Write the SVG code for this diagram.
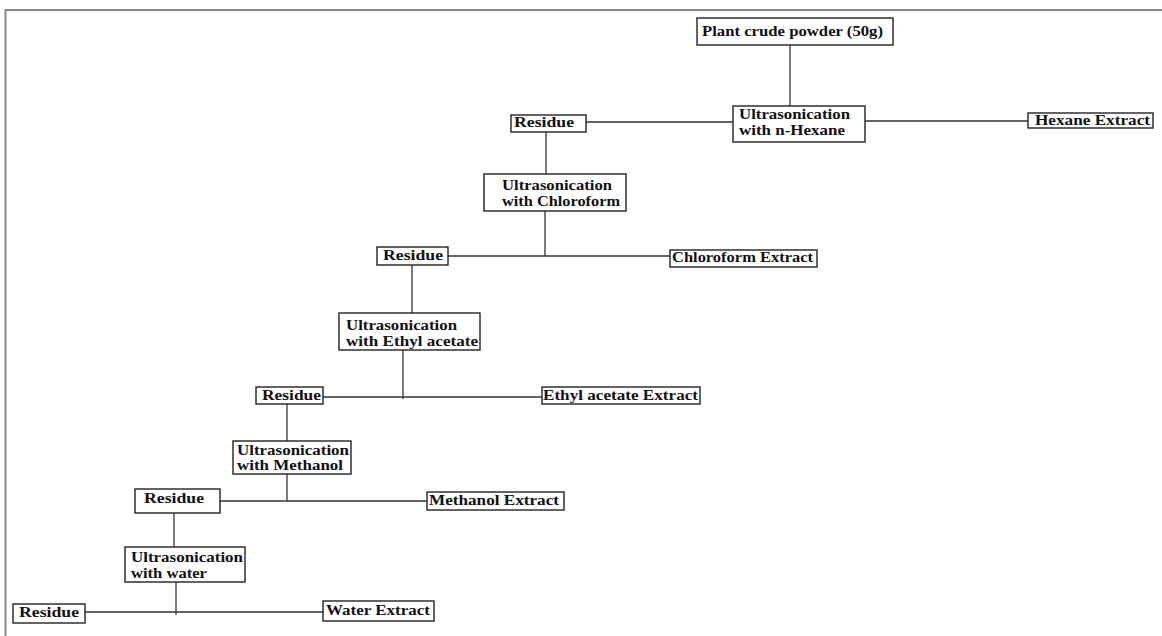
<svg xmlns="http://www.w3.org/2000/svg" width="1162" height="636" viewBox="0 0 1162 636">
<style>
.box{fill:#fff;stroke:#222;stroke-width:1.4}
.t{font-family:"Liberation Serif","Times New Roman",serif;font-weight:bold;font-size:14.5px;fill:#111}
.ln{stroke:#333;stroke-width:1.3;fill:none}
.frame{stroke:#888;stroke-width:2;fill:none}
</style>
<rect width="1162" height="636" fill="#fff"/>
<path class="frame" d="M5.5,636 V10 H1162"/>
<g id="connectors">
<line class="ln" x1="790" y1="45" x2="790" y2="106"/>
<line class="ln" x1="586" y1="122" x2="733" y2="122"/>
<line class="ln" x1="865" y1="121" x2="1028" y2="121"/>
<line class="ln" x1="546" y1="132" x2="546" y2="174"/>
<line class="ln" x1="545" y1="211" x2="545" y2="256"/>
<line class="ln" x1="448" y1="256" x2="670" y2="256"/>
<line class="ln" x1="412" y1="265" x2="412" y2="313"/>
<line class="ln" x1="403" y1="350" x2="403" y2="399"/>
<line class="ln" x1="323" y1="397" x2="542" y2="397"/>
<line class="ln" x1="287" y1="404" x2="287" y2="441"/>
<line class="ln" x1="287" y1="474" x2="287" y2="501"/>
<line class="ln" x1="219" y1="501" x2="427" y2="501"/>
<line class="ln" x1="174" y1="513" x2="174" y2="547"/>
<line class="ln" x1="176" y1="582" x2="176" y2="615"/>
<line class="ln" x1="85" y1="612" x2="323" y2="612"/>
</g>
<g id="plant">
<rect class="box" x="697" y="18" width="196" height="27"/>
<text class="t" x="702" y="36" textLength="181" lengthAdjust="spacingAndGlyphs">Plant crude powder (50g)</text>
</g>
<g id="us-hexane">
<rect class="box" x="733" y="106" width="132" height="36"/>
<text class="t" x="739" y="119" textLength="111" lengthAdjust="spacingAndGlyphs">Ultrasonication</text>
<text class="t" x="739" y="135" textLength="106" lengthAdjust="spacingAndGlyphs">with n-Hexane</text>
</g>
<g id="hexane-extract">
<rect class="box" x="1028" y="113" width="125" height="15"/>
<text class="t" x="1035" y="125" textLength="115" lengthAdjust="spacingAndGlyphs">Hexane Extract</text>
</g>
<g id="residue1">
<rect class="box" x="511" y="115" width="75" height="17"/>
<text class="t" x="514" y="127" textLength="60" lengthAdjust="spacingAndGlyphs">Residue</text>
</g>
<g id="us-chloroform">
<rect class="box" x="484" y="174" width="142" height="37"/>
<text class="t" x="502" y="190" textLength="110" lengthAdjust="spacingAndGlyphs">Ultrasonication</text>
<text class="t" x="502" y="206" textLength="118" lengthAdjust="spacingAndGlyphs">with Chloroform</text>
</g>
<g id="residue2">
<rect class="box" x="377" y="247" width="71" height="18"/>
<text class="t" x="383" y="260" textLength="60" lengthAdjust="spacingAndGlyphs">Residue</text>
</g>
<g id="chloroform-extract">
<rect class="box" x="670" y="250" width="147" height="17"/>
<text class="t" x="672" y="262" textLength="141" lengthAdjust="spacingAndGlyphs">Chloroform Extract</text>
</g>
<g id="us-ethyl">
<rect class="box" x="339" y="313" width="141" height="37"/>
<text class="t" x="346" y="330" textLength="111" lengthAdjust="spacingAndGlyphs">Ultrasonication</text>
<text class="t" x="346" y="346" textLength="132" lengthAdjust="spacingAndGlyphs">with Ethyl acetate</text>
</g>
<g id="residue3">
<rect class="box" x="256" y="387" width="67" height="17"/>
<text class="t" x="262" y="400" textLength="59" lengthAdjust="spacingAndGlyphs">Residue</text>
</g>
<g id="ethyl-extract">
<rect class="box" x="542" y="387" width="158" height="17"/>
<text class="t" x="543" y="400" textLength="155" lengthAdjust="spacingAndGlyphs">Ethyl acetate Extract</text>
</g>
<g id="us-methanol">
<rect class="box" x="233" y="441" width="118" height="33"/>
<text class="t" x="237" y="455" textLength="112" lengthAdjust="spacingAndGlyphs">Ultrasonication</text>
<text class="t" x="237" y="470" textLength="106" lengthAdjust="spacingAndGlyphs">with Methanol</text>
</g>
<g id="residue4">
<rect class="box" x="135" y="489" width="85" height="24"/>
<text class="t" x="144" y="503" textLength="60" lengthAdjust="spacingAndGlyphs">Residue</text>
</g>
<g id="methanol-extract">
<rect class="box" x="427" y="492" width="137" height="18"/>
<text class="t" x="429" y="505" textLength="130" lengthAdjust="spacingAndGlyphs">Methanol Extract</text>
</g>
<g id="us-water">
<rect class="box" x="125" y="547" width="120" height="35"/>
<text class="t" x="131" y="562" textLength="112" lengthAdjust="spacingAndGlyphs">Ultrasonication</text>
<text class="t" x="131" y="578" textLength="76" lengthAdjust="spacingAndGlyphs">with water</text>
</g>
<g id="residue5">
<rect class="box" x="13" y="604" width="72" height="19"/>
<text class="t" x="19" y="617" textLength="60" lengthAdjust="spacingAndGlyphs">Residue</text>
</g>
<g id="water-extract">
<rect class="box" x="323" y="601" width="111" height="20"/>
<text class="t" x="326" y="615" textLength="104" lengthAdjust="spacingAndGlyphs">Water Extract</text>
</g>
</svg>
